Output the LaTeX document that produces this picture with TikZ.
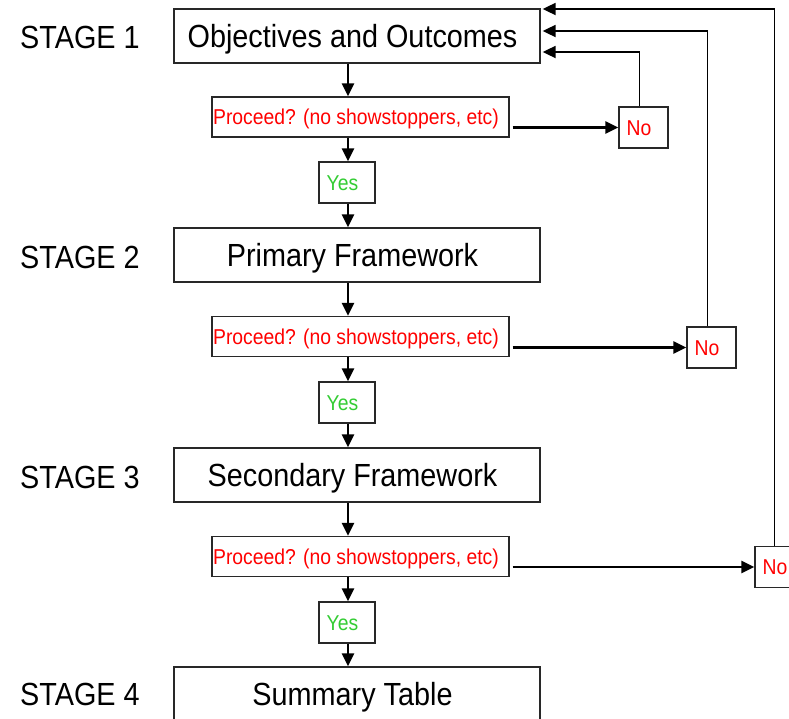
\documentclass[tikz,border=0pt]{standalone}
\usepackage{fontspec}
\setmainfont{Liberation Sans}[FakeStretch=0.9]
\usetikzlibrary{arrows.meta}
\definecolor{yesgreen}{RGB}{51,204,51}
\definecolor{boxline}{RGB}{40,40,40}
\begin{document}
\begin{tikzpicture}[x=1pt,y=-1pt,
  shiftleft/.style={execute at end node={\hspace*{9pt}}},
  mainbox/.style={draw=boxline,line width=1.3pt,minimum width=366pt,minimum height=54pt,inner sep=0pt,text height=23pt,text depth=0pt,shiftleft,font=\fontsize{32}{36}\selectfont},
  stagelbl/.style={anchor=base west,inner sep=0pt,font=\fontsize{32}{36}\selectfont},
  askbox/.style={draw=boxline,line width=1.3pt,minimum width=297pt,minimum height=40pt,inner sep=0pt,text height=15pt,text depth=0pt,shiftleft,text=red,font=\fontsize{21.5}{24}\selectfont},
  yesbox/.style={draw=boxline,line width=1.3pt,minimum width=56pt,minimum height=41pt,inner sep=0pt,text height=15pt,text depth=0pt,shiftleft,text=yesgreen,font=\fontsize{21.5}{24}\selectfont},
  nobox/.style={draw=boxline,line width=1.3pt,minimum width=49pt,minimum height=41pt,inner sep=0pt,text height=15pt,text depth=0pt,shiftleft,text=red,font=\fontsize{21.5}{24}\selectfont},
  flow/.style={line width=2.3pt,-{Triangle[length=13pt,width=12pt]}},
  back/.style={line width=1.8pt,-{Triangle[length=13pt,width=12pt]}}]
\useasboundingbox (0,0) rectangle (789,718);
\coordinate (col) at (348,0);
% main boxes
\node[mainbox] (b1) at (357,36) {Objectives and Outcomes};
\node[mainbox] (b2) at (357,255) {Primary Framework};
\node[mainbox] (b3) at (357,475) {Secondary Framework};
\node[mainbox] (b4) at (357,694) {Summary Table};
% stage labels
\node[stagelbl] (s1) at (20,48) {STAGE 1};
\node[stagelbl] (s2) at (20,268) {STAGE 2};
\node[stagelbl] (s3) at (20,488) {STAGE 3};
\node[stagelbl] (s4) at (20,705) {STAGE 4};
% decisions
\node[askbox] (d1) at (360.5,117) {Proceed? (no showstoppers, etc)};
\node[askbox] (d2) at (360.5,336.5) {Proceed? (no showstoppers, etc)};
\node[askbox] (d3) at (360.5,556.5) {Proceed? (no showstoppers, etc)};
% yes boxes
\node[yesbox] (y1) at (347,182.5) {Yes};
\node[yesbox] (y2) at (347,402.5) {Yes};
\node[yesbox] (y3) at (347,622.5) {Yes};
% no boxes
\node[nobox] (n1) at (643.5,127.5) {No};
\node[nobox] (n2) at (711.5,347.5) {No};
\node[nobox] (n3) at (779.5,567) {No};
% vertical flow
\draw[flow] (b1.south -| col) -- (d1.north -| col);
\draw[flow] (d1.south -| col) -- (y1.north -| col);
\draw[flow] (y1.south -| col) -- (b2.north -| col);
\draw[flow] (b2.south -| col) -- (d2.north -| col);
\draw[flow] (d2.south -| col) -- (y2.north -| col);
\draw[flow] (y2.south -| col) -- (b3.north -| col);
\draw[flow] (b3.south -| col) -- (d3.north -| col);
\draw[flow] (d3.south -| col) -- (y3.north -| col);
\draw[flow] (y3.south -| col) -- (b4.north -| col);
% to No boxes
\draw[flow] ([xshift=3pt]d1.east |- n1.west) -- (n1.west);
\draw[flow] ([xshift=3pt]d2.east |- n2.west) -- (n2.west);
\draw[flow] ([xshift=3pt]d3.east |- n3.west) -- (n3.west);
% feedback
\draw[back] ([xshift=-4pt]n1.north) |- ([xshift=2pt,yshift=-16pt]b1.east);
\draw[back] ([xshift=-4pt]n2.north) |- ([xshift=2pt,yshift=5pt]b1.east);
\draw[back] ([xshift=-5pt]n3.north) |- ([xshift=2pt,yshift=27pt]b1.east);
\end{tikzpicture}
\end{document}
